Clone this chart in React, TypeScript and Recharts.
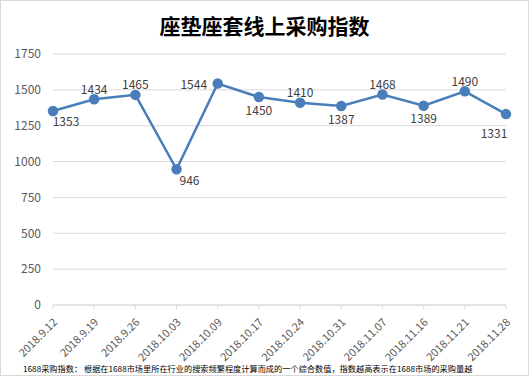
import React from 'react';
import { LineChart, Line, XAxis, YAxis, CartesianGrid, LabelList } from 'recharts';

const dates = [
  '2018.9.12', '2018.9.19', '2018.9.26', '2018.10.03', '2018.10.09', '2018.10.17',
  '2018.10.24', '2018.10.31', '2018.11.07', '2018.11.16', '2018.11.21', '2018.11.28',
];
const indexValues = [1353, 1434, 1465, 946, 1544, 1450, 1410, 1387, 1468, 1389, 1490, 1331];
const yTicks = [0, 250, 500, 750, 1000, 1250, 1500, 1750];

// where each value label sits relative to its point
const labelSide = [
  'belowRight', 'above', 'above', 'belowRight', 'left', 'below',
  'above', 'below', 'above', 'below', 'above', 'belowLeft',
];

const chartData = dates.map((d, i) => ({ date: d, value: indexValues[i] }));

const LINE_COLOR = '#4a7ebb';
const TEXT_GRAY = '#595959';

const ValueLabel = (props: any) => {
  const { x, y, value, index } = props;
  const side = labelSide[index];
  let lx = x;
  let ly = y;
  if (side === 'above') ly = y - 11;
  else if (side === 'below') ly = y + 12;
  else if (side === 'left') { lx = x - 24; ly = y; }
  else if (side === 'belowRight') { lx = x + 13; ly = y + 10; }
  else if (side === 'belowLeft') { lx = x - 12; ly = y + 18; }
  return (
    <text x={lx} y={ly} textAnchor="middle" dominantBaseline="central" fontSize={12} fill="#404040">
      {value}
    </text>
  );
};

const DateTick = (props: any) => {
  const { x, y, payload } = props;
  return (
    <text
      x={x + 5}
      y={y + 12}
      transform={`rotate(-45, ${x + 5}, ${y + 12})`}
      textAnchor="end"
      fontSize={11}
      fill={TEXT_GRAY}
    >
      {payload.value}
    </text>
  );
};

export default function App() {
  return (
    <div
      style={{
        position: 'absolute',
        left: 0,
        top: 0,
        width: 529,
        height: 376,
        boxSizing: 'border-box',
        border: '1px solid #d9d9d9',
        background: '#fff',
        fontFamily: '"Noto Sans CJK SC", "Noto Sans", sans-serif',
        overflow: 'hidden',
      }}
    >
      <div
        style={{
          position: 'absolute',
          top: 10,
          left: 0,
          width: 527,
          textAlign: 'center',
          fontSize: 21,
          fontWeight: 'bold',
          color: '#000',
          lineHeight: '28px',
        }}
      >
        座垫座套线上采购指数
      </div>
      <div style={{ position: 'absolute', left: -1, top: -1 }}>
        <LineChart
          width={529}
          height={376}
          data={chartData}
          margin={{ top: 54, right: 23, left: 8, bottom: 11 }}
        >
          <CartesianGrid vertical={false} stroke="#d9d9d9" />
          <XAxis
            dataKey="date"
            interval={0}
            height={60}
            stroke="#d9d9d9"
            tickSize={4}
            tick={<DateTick />}
          />
          <YAxis
            domain={[0, 1750]}
            ticks={yTicks}
            width={45}
            axisLine={false}
            tickLine={false}
            tick={{ fontSize: 12, fill: TEXT_GRAY }}
            tickMargin={6}
          />
          <Line
            type="linear"
            dataKey="value"
            stroke={LINE_COLOR}
            strokeWidth={2.5}
            dot={{ r: 4, fill: LINE_COLOR, stroke: LINE_COLOR }}
            isAnimationActive={false}
          >
            <LabelList dataKey="value" content={<ValueLabel />} />
          </Line>
        </LineChart>
      </div>
      <div
        style={{
          position: 'absolute',
          left: 22,
          top: 362,
          fontSize: 8.2,
          color: '#000',
          whiteSpace: 'nowrap',
          lineHeight: '11px',
        }}
      >
        1688采购指数： 根据在1688市场里所在行业的搜索频繁程度计算而成的一个综合数值，指数越高表示在1688市场的采购量越
      </div>
    </div>
  );
}
